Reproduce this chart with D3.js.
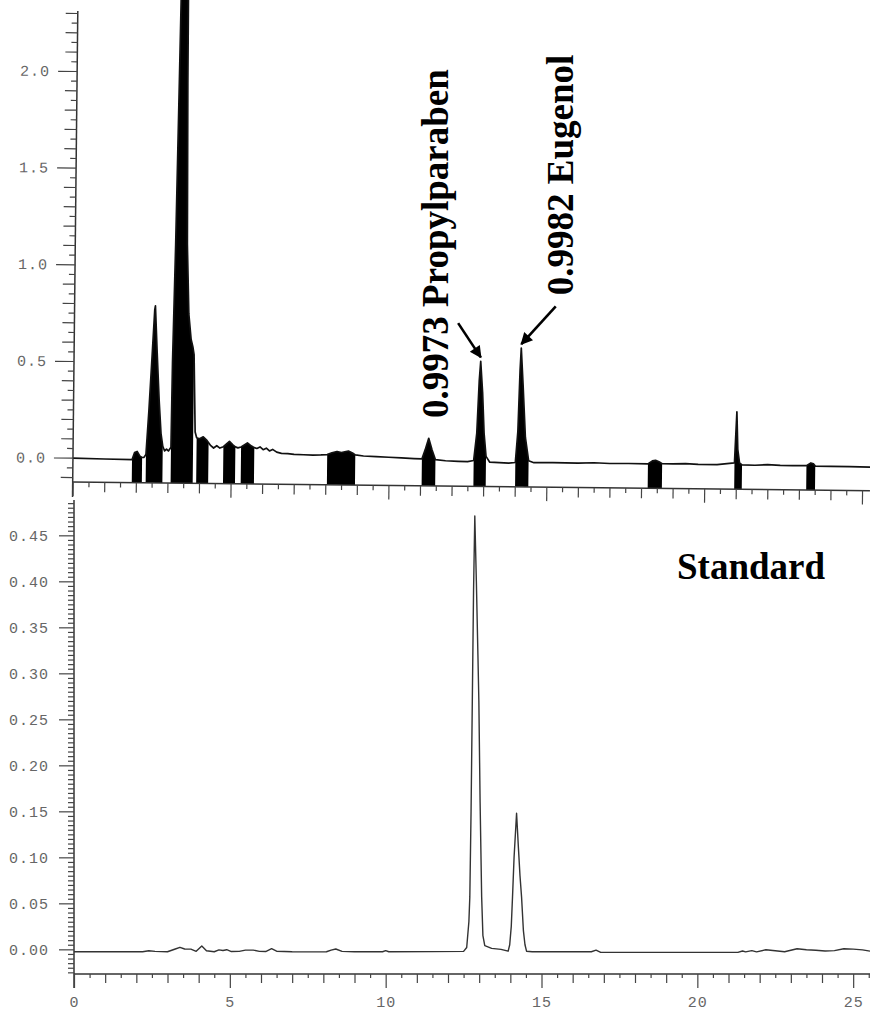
<!DOCTYPE html>
<html>
<head>
<meta charset="utf-8">
<script src="https://cdn.jsdelivr.net/npm/d3@7"></script>
<style>
  body { margin: 0; background: #fff; }
  .tick text { font-family: "Liberation Mono", "DejaVu Sans Mono", monospace; font-size: 15px; fill: #666; letter-spacing: 1px; }
  .tick line { stroke: #444; stroke-width: 1.2; }
  .domain { display: none; }
  .axis-line { stroke: #333; stroke-width: 1.5; }
  .label { font-family: "Liberation Serif", "Times New Roman", serif; font-weight: bold; font-size: 37px; fill: #000; }
</style>
</head>
<body>
<div id="chart"></div>
<script>
// Sample chromatogram (top): [retention time, absorbance]
var sampleTrace = [
  [0, -0.002], [1.0, -0.005], [1.87, -0.007], [1.95, 0.03], [2.03, 0.036], [2.12, 0.012], [2.19, 0.005],
  [2.25, 0.006], [2.31, 0.02], [2.39, 0.25], [2.48, 0.56], [2.54, 0.77], [2.56, 0.79], [2.63, 0.55],
  [2.71, 0.30], [2.78, 0.13], [2.84, 0.064], [2.90, 0.04], [2.96, 0.05], [3.02, 0.04], [3.10, 0.06],
  [3.12, 0.5], [3.18, 1.11], [3.24, 1.94], [3.27, 2.37], [3.38, 3.3], [3.50, 2.37], [3.51, 1.94],
  [3.55, 1.11], [3.62, 0.75], [3.70, 0.62], [3.76, 0.58], [3.80, 0.54], [3.86, 0.14], [3.91, 0.11],
  [4.00, 0.105], [4.12, 0.115], [4.22, 0.10], [4.29, 0.085], [4.36, 0.07], [4.45, 0.058], [4.55, 0.07],
  [4.65, 0.058], [4.76, 0.065], [4.95, 0.093], [5.06, 0.075], [5.14, 0.065], [5.22, 0.06], [5.32, 0.065],
  [5.52, 0.086], [5.65, 0.07], [5.74, 0.062], [5.82, 0.058], [5.92, 0.066], [6.02, 0.052], [6.12, 0.06],
  [6.22, 0.046], [6.32, 0.054], [6.45, 0.04], [6.6, 0.034], [6.8, 0.033], [7.0, 0.03], [7.3, 0.028],
  [7.6, 0.027], [7.85, 0.028], [8.05, 0.03], [8.2, 0.04], [8.36, 0.047], [8.5, 0.042], [8.72, 0.05],
  [8.85, 0.04], [8.94, 0.03], [9.2, 0.025], [9.6, 0.022], [10.0, 0.02], [10.4, 0.017], [10.8, 0.014],
  [11.05, 0.013], [11.15, 0.06], [11.26, 0.12], [11.37, 0.06], [11.48, 0.01], [11.8, 0.005], [12.2, 0.003],
  [12.5, 0.002], [12.69, 0.008], [12.78, 0.15], [12.84, 0.42], [12.88, 0.521], [12.95, 0.36], [13.01, 0.15],
  [13.08, 0.03], [13.2, 0.0], [13.5, -0.002], [13.8, -0.004], [14.01, 0.0], [14.08, 0.16], [14.13, 0.48],
  [14.16, 0.592], [14.23, 0.40], [14.32, 0.13], [14.43, 0.01], [14.6, 0.0], [15.2, 0.001], [16.0, 0.0],
  [16.5, 0.003], [17.0, 0.0], [17.6, 0.001], [18.21, 0.0], [18.35, 0.016], [18.45, 0.019], [18.56, 0.012],
  [18.66, 0.002], [19.0, 0.002], [19.4, 0.004], [19.8, 0.0], [20.4, 0.0], [20.95, 0.01], [20.97, 0.10],
  [21.01, 0.274], [21.05, 0.08], [21.11, 0.01], [21.19, 0.0], [21.6, -0.001], [22.0, 0.003], [22.4, 0.0],
  [22.8, -0.001], [23.23, 0.0], [23.37, 0.014], [23.45, 0.01], [23.51, -0.002], [24.0, -0.002],
  [24.6, -0.003], [25.25, -0.004]
];

// integrated (filled) peak windows of the sample
var peakWindows = [
  [1.87, 2.19], [2.31, 2.84], [3.10, 3.80], [3.91, 4.29], [4.76, 5.14], [5.32, 5.74], [8.05, 8.94],
  [11.05, 11.48], [12.69, 13.08], [14.01, 14.43], [18.21, 18.66], [20.95, 21.19], [23.23, 23.51]
];

// Standard chromatogram (bottom)
var standardTrace = [
  [0, -0.0026], [2.2, -0.0026], [2.4, -0.0016], [2.6, -0.0022], [3.0, -0.0026], [3.25, 0.0004],
  [3.4, 0.0022], [3.55, 0.0004], [3.75, 0.0002], [3.92, -0.0022], [4.1, 0.0036], [4.25, -0.0016],
  [4.5, -0.0026], [4.65, -0.0006], [4.78, -0.0012], [4.9, -0.0004], [5.05, -0.0024], [5.3, -0.0022],
  [5.5, -0.0008], [5.75, -0.0008], [5.95, -0.0022], [6.15, -0.0024], [6.34, 0.0007], [6.5, -0.002],
  [7.0, -0.0026], [7.6, -0.0028], [8.1, -0.0026], [8.25, -0.0008], [8.4, 0.0004], [8.6, -0.0022],
  [9.0, -0.0026], [9.9, -0.0026], [10.0, -0.0014], [10.1, -0.0026], [11.5, -0.0025], [12.5, -0.0022],
  [12.6, 0.002], [12.67, 0.03], [12.70, 0.057], [12.74, 0.15], [12.78, 0.27], [12.82, 0.39], [12.86, 0.471],
  [12.91, 0.40], [12.96, 0.32], [12.99, 0.27], [13.03, 0.16], [13.08, 0.057], [13.12, 0.015], [13.18, 0.004],
  [13.4, 0.001], [13.7, 0.0], [13.93, -0.002], [13.98, 0.005], [14.03, 0.025], [14.07, 0.057], [14.12, 0.10],
  [14.20, 0.148], [14.26, 0.11], [14.31, 0.08], [14.36, 0.057], [14.42, 0.02], [14.47, 0.005], [14.52, -0.002],
  [14.7, -0.0026], [16.0, -0.0026], [16.6, -0.0026], [16.75, -0.0008], [16.9, -0.0033], [18.0, -0.0033],
  [21.3, -0.0033], [21.45, -0.0018], [21.55, -0.0028], [21.75, -0.0014], [21.9, -0.0028], [22.2, -0.0004],
  [22.5, -0.0016], [22.8, -0.0026], [23.2, 0.0007], [23.5, -0.0004], [23.8, -0.001], [24.1, -0.0018],
  [24.4, -0.0014], [24.7, 0.0007], [25.0, 0.0002], [25.3, -0.0006], [25.54, -0.002]
];

var yTicksTop = [0, 0.5, 1.0, 1.5, 2.0];
var yTicksBottom = [0, 0.05, 0.10, 0.15, 0.20, 0.25, 0.30, 0.35, 0.40, 0.45];
var xTicksLabeled = [0, 5, 10, 15, 20, 25];

var peakLabels = [
  { time: 12.88, abs: 0.521, text: "0.9973 Propylparaben", tail: [-23, -34], textOff: [-31, 61] },
  { time: 14.16, abs: 0.592, text: "0.9982 Eugenol", tail: [34, -38], textOff: [53, -48] }
];

var svgWidth = 870;
var svgHeight = 1015;

var svg = d3.select("#chart")
  .append("svg")
  .attr("width", svgWidth)
  .attr("height", svgHeight);

var defs = svg.append("defs");

defs.append("marker")
  .attr("id", "arrow")
  .attr("viewBox", "0 0 10 10")
  .attr("refX", 9)
  .attr("refY", 5)
  .attr("markerWidth", 16)
  .attr("markerHeight", 12)
  .attr("markerUnits", "userSpaceOnUse")
  .attr("orient", "auto")
  .append("path")
  .attr("d", "M0,0L10,5L0,10z")
  .attr("fill", "#000");

// tick helper: halves, integers, fives
var halfTicks = d3.range(1, 52).map(i => i / 2).filter(d => d % 1 !== 0);
var intTicks = d3.range(0, 26).filter(d => d % 5 !== 0);

// ---------- top panel (scan is tilted slightly) ----------
var topAxisY = 482;
var xTop = d3.scaleLinear().domain([0, 25.25]).range([72.7, 870]);
var yTop = d3.scaleLinear().domain([-0.1257, 2.367]).range([topAxisY, 0]);

var topG = svg.append("g")
  .attr("transform", `rotate(0.62, ${xTop(0)}, ${topAxisY})`);

defs.append("clipPath").attr("id", "clipTop")
  .append("rect")
  .attr("x", xTop(0))
  .attr("y", -40)
  .attr("width", 820)
  .attr("height", topAxisY + 40);

var plotTop = topG.append("g").attr("clip-path", "url(#clipTop)");

var areaTop = d3.area()
  .x(d => xTop(d[0]))
  .y0(topAxisY)
  .y1(d => yTop(d[1]));

plotTop.selectAll("path.peak")
  .data(peakWindows)
  .enter()
  .append("path")
  .attr("class", "peak")
  .attr("d", w => areaTop(sampleTrace.filter(d => d[0] >= w[0] && d[0] <= w[1])))
  .attr("fill", "#000");

var lineTop = d3.line()
  .x(d => xTop(d[0]))
  .y(d => yTop(d[1]));

plotTop.append("path")
  .datum(sampleTrace)
  .attr("d", lineTop)
  .attr("fill", "none")
  .attr("stroke", "#111")
  .attr("stroke-width", 1.7)
  .attr("stroke-linejoin", "round");

// top y axis
topG.append("line").attr("class", "axis-line")
  .attr("x1", xTop(0)).attr("x2", xTop(0))
  .attr("y1", yTop(2.31)).attr("y2", topAxisY + 15);

topG.append("g")
  .attr("transform", `translate(${xTop(0)},0)`)
  .call(d3.axisLeft(yTop).tickValues(yTicksTop).tickFormat(d3.format(".1f")).tickSize(19).tickPadding(8));

topG.append("g")
  .attr("transform", `translate(${xTop(0)},0)`)
  .call(d3.axisLeft(yTop).tickValues(d3.range(-1, 24).map(i => i / 10).filter(d => Math.round(d * 10) % 5 !== 0)).tickFormat("").tickSize(12));

topG.append("g")
  .attr("transform", `translate(${xTop(0)},0)`)
  .call(d3.axisLeft(yTop).tickValues(d3.range(-1, 23).map(i => i / 10 + 0.05)).tickFormat("").tickSize(6));

// top x axis (no labels)
topG.append("line").attr("class", "axis-line")
  .attr("x1", xTop(0)).attr("x2", 870)
  .attr("y1", topAxisY).attr("y2", topAxisY);

topG.append("g").attr("transform", `translate(0,${topAxisY})`)
  .call(d3.axisBottom(xTop).tickValues(halfTicks).tickFormat("").tickSize(5));
topG.append("g").attr("transform", `translate(0,${topAxisY})`)
  .call(d3.axisBottom(xTop).tickValues(intTicks).tickFormat("").tickSize(10));
topG.append("g").attr("transform", `translate(0,${topAxisY})`)
  .call(d3.axisBottom(xTop).tickValues(xTicksLabeled).tickFormat("").tickSize(14));

// arrows pointing at the identified peaks
topG.selectAll("line.arrow")
  .data(peakLabels)
  .enter()
  .append("line")
  .attr("class", "arrow")
  .attr("x1", d => xTop(d.time) + d.tail[0])
  .attr("y1", d => yTop(d.abs) - 4 + d.tail[1])
  .attr("x2", d => xTop(d.time))
  .attr("y2", d => yTop(d.abs) - 4)
  .attr("stroke", "#000")
  .attr("stroke-width", 2.6)
  .attr("marker-end", "url(#arrow)");

// rotated labels
svg.selectAll("text.peak-label")
  .data(peakLabels)
  .enter()
  .append("text")
  .attr("class", "label peak-label")
  .attr("transform", d => `translate(${xTop(d.time) + d.textOff[0]},${yTop(d.abs) + d.textOff[1]}) rotate(-90)`)
  .attr("text-anchor", "start")
  .text(d => d.text);

// ---------- bottom panel ----------
var botAxisY = 974;
var xBot = d3.scaleLinear().domain([0, 25.54]).range([74, 870]);
var yBot = d3.scaleLinear().domain([-0.0268, 0.4884]).range([botAxisY, 500]);

defs.append("clipPath").attr("id", "clipBot")
  .append("rect")
  .attr("x", xBot(0))
  .attr("y", 500)
  .attr("width", 800)
  .attr("height", botAxisY - 500);

var lineBot = d3.line()
  .x(d => xBot(d[0]))
  .y(d => yBot(d[1]));

svg.append("g").attr("clip-path", "url(#clipBot)")
  .append("path")
  .datum(standardTrace)
  .attr("d", lineBot)
  .attr("fill", "none")
  .attr("stroke", "#333")
  .attr("stroke-width", 1.4)
  .attr("stroke-linejoin", "round");

svg.append("line").attr("class", "axis-line")
  .attr("x1", xBot(0)).attr("x2", xBot(0))
  .attr("y1", 500).attr("y2", botAxisY + 14);

svg.append("g")
  .attr("transform", `translate(${xBot(0)},0)`)
  .call(d3.axisLeft(yBot).tickValues(yTicksBottom).tickFormat(d3.format(".2f")).tickSize(15).tickPadding(10));

svg.append("g")
  .attr("transform", `translate(${xBot(0)},0)`)
  .call(d3.axisLeft(yBot).tickValues(d3.range(-5, 98).filter(i => i % 10 !== 0).map(i => i * 0.005)).tickFormat("").tickSize(6));

svg.append("line").attr("class", "axis-line")
  .attr("x1", xBot(0)).attr("x2", 870)
  .attr("y1", botAxisY).attr("y2", botAxisY);

svg.append("g").attr("transform", `translate(0,${botAxisY})`)
  .call(d3.axisBottom(xBot).tickValues(halfTicks).tickFormat("").tickSize(4));
svg.append("g").attr("transform", `translate(0,${botAxisY})`)
  .call(d3.axisBottom(xBot).tickValues(intTicks).tickFormat("").tickSize(9));
svg.append("g").attr("transform", `translate(0,${botAxisY})`)
  .call(d3.axisBottom(xBot).tickValues(xTicksLabeled).tickFormat(d3.format("d")).tickSize(14).tickPadding(8));

svg.append("text")
  .attr("class", "label")
  .attr("x", 677)
  .attr("y", 579)
  .text("Standard");
</script>
</body>
</html>
